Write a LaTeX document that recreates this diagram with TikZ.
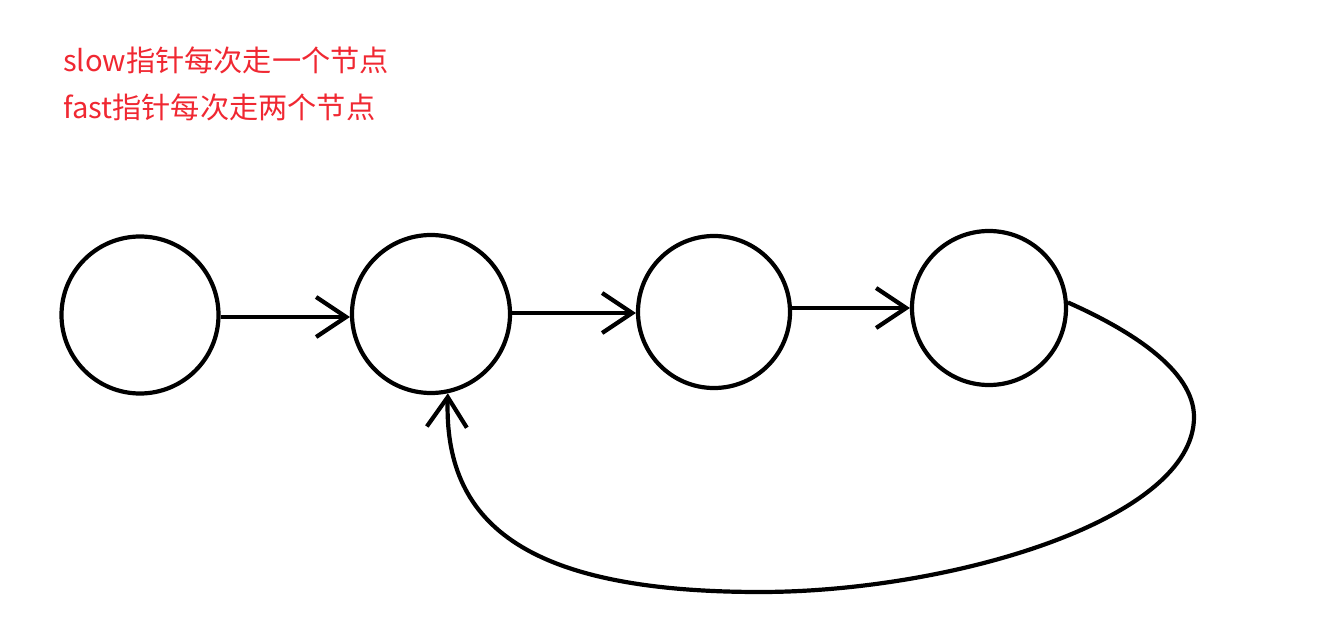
\documentclass[tikz,border=0pt]{standalone}
\usepackage{fontspec}
\newfontfamily\cjk{Noto Sans CJK SC}
\usetikzlibrary{arrows.meta}
\definecolor{txtred}{RGB}{240,40,50}
\tikzset{
  ring/.style={circle, draw, line width=4.2pt, minimum size=#1, inner sep=0pt},
  link/.style={line width=4.2pt, -{Straight Barb[length=30pt, width=40pt, line width=4.2pt]}},
  note/.style={anchor=base west, inner sep=0pt, text=txtred, font=\cjk\fontsize{29.2}{36}\selectfont}
}
\begin{document}
\begin{tikzpicture}[x=1pt, y=-1pt]
\useasboundingbox (0,0) rectangle (1317,644);
\node[note] (t1) at (63,72) {slow指针每次走一个节点};
\node[note] (t2) at (63,119) {fast指针每次走两个节点};
\node[ring=157pt] (n1) at (140,315) {};
\node[ring=158pt] (n2) at (431,314) {};
\node[ring=152pt] (n3) at (714,312) {};
\node[ring=154pt] (n4) at (989,308) {};
\draw[link] (n1.east |- 0,317) -- (n2.west |- 0,317);
\draw[link] (n2.east |- 0,313) -- (n3.west |- 0,313);
\draw[link] (n3.east |- 0,308) -- (n4.west);
\draw[link] (n4.4) .. controls (1130,330) and (1194,370) .. (1194,417)
  .. controls (1194,520) and (950,592) .. (760,592)
  .. controls (520,592) and (444,520) .. (n2.-78);
\end{tikzpicture}
\end{document}
